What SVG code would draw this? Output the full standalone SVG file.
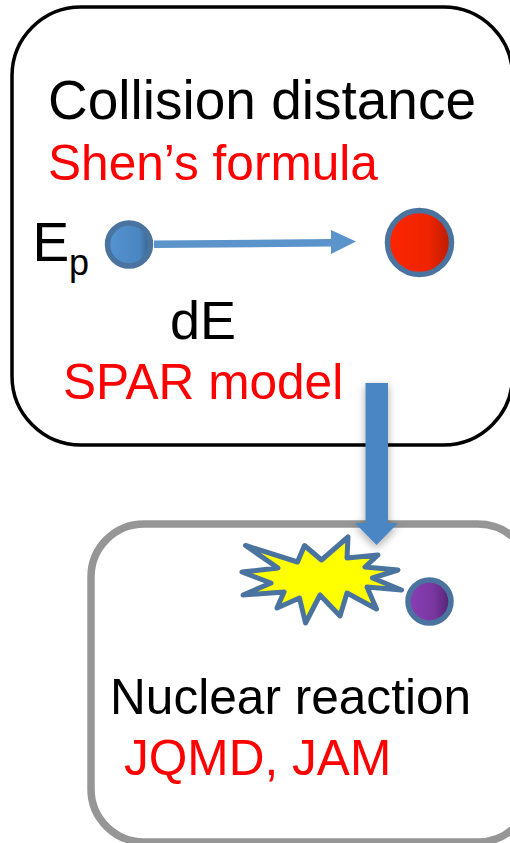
<svg xmlns="http://www.w3.org/2000/svg" width="510" height="843" viewBox="0 0 510 843">
<defs>
<linearGradient id="gb"><stop offset="0" stop-color="#5493d2"/><stop offset="0.75" stop-color="#4a86c0"/><stop offset="1" stop-color="#33608c"/></linearGradient>
<linearGradient id="gr"><stop offset="0" stop-color="#ff2400"/><stop offset="0.65" stop-color="#ee2400"/><stop offset="1" stop-color="#b81c00"/></linearGradient>
<linearGradient id="gp"><stop offset="0" stop-color="#8a3fb4"/><stop offset="0.6" stop-color="#7a36a0"/><stop offset="1" stop-color="#502470"/></linearGradient>
<filter id="sh" x="-40%" y="-10%" width="180%" height="120%"><feDropShadow dx="0" dy="3" stdDeviation="4" flood-color="#000" flood-opacity="0.35"/></filter>
<style>
text{font-family:"Liberation Sans",Arial,sans-serif}
.k{fill:#000}.r{fill:#ff0000}
.ball{stroke:#4a749f;stroke-width:5.5}
</style>
</defs>
<g id="box-top"><rect x="12" y="7" width="500.500" height="438" rx="69" fill="#fff" stroke="#000" stroke-width="3.5"/>
<text class="k" x="48" y="119" font-size="55">Collision distance</text>
<text class="r" x="48" y="180" font-size="49.600">Shen’s formula</text>
<text class="k" x="32.500" y="261" font-size="55">E</text><text class="k" x="69" y="275" font-size="36">p</text>
<text class="k" x="170" y="338.500" font-size="54">dE</text>
<text class="r" x="63" y="399" font-size="49.600">SPAR model</text></g>
<g id="box-bottom"><rect x="91" y="524" width="440" height="318" rx="53" fill="#fff" stroke="#969696" stroke-width="7.500"/>
<text class="k" x="110" y="713.500" font-size="49.600">Nuclear reaction</text>
<text class="r" x="124" y="775" font-size="49.600">JQMD, JAM</text></g>
<g id="ball-blue"><circle class="ball" cx="129" cy="244.500" r="21.500" fill="url(#gb)"/></g>
<g id="ball-red"><circle class="ball" cx="419.500" cy="242.500" r="32" fill="url(#gr)"/></g>
<g id="burst"><polygon points="245.500,545.500 297.500,562 304.500,545.500 321.500,560 348,537 347,558 378,555 365,567 398,570 372.500,578 401.500,590 367,587 376.500,609 347,593 340,616 320,595 305.500,623 299.500,598 277,608 284,592 243,595 271,583 242,572 278,568" fill="#ffff00" stroke="#4a749f" stroke-width="5" stroke-linejoin="round"/></g>
<g id="ball-purple"><circle class="ball" cx="429.500" cy="601.500" r="21.500" fill="url(#gp)"/></g>
<g id="connectors">
<polygon points="154,240.500 331,239 331,230 356,241.500 331,254 331,246.500 154,248" fill="#5b93cb"/>
<polygon points="365.500,383 388,383 388,523 398,523 376.500,545 355,523 365.500,523" fill="#4a86c3" filter="url(#sh)"/>
</g>
</svg>
